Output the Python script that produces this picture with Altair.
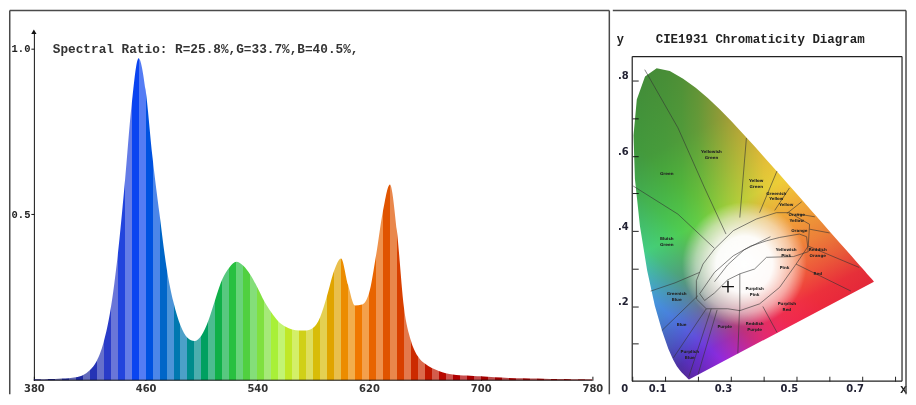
import altair as alt
import pandas as pd

# ---------------- spectrum (left panel) ----------------
wavelength_nm = [380, 385, 390, 395, 400, 405, 410, 415, 420, 425, 430, 435, 440, 445, 450, 455,
                 460, 465, 470, 475, 480, 485, 490, 495, 500, 505, 510, 515, 520, 525, 530, 535,
                 540, 545, 550, 555, 560, 565, 570, 575, 580, 585, 590, 595, 600, 605, 610, 615,
                 620, 625, 630, 635, 640, 645, 650, 655, 660, 665, 670, 675, 680, 685, 690, 695,
                 700, 710, 720, 730, 740, 750, 760, 770, 780]
relative_power = [0.003, 0.003, 0.004, 0.004, 0.005, 0.006, 0.009, 0.015, 0.030, 0.058, 0.115, 0.215, 0.375, 0.590, 0.830, 0.970,
                  0.875, 0.670, 0.500, 0.340, 0.235, 0.165, 0.128, 0.118, 0.135, 0.180, 0.245, 0.305, 0.340, 0.357, 0.345, 0.318,
                  0.280, 0.238, 0.205, 0.178, 0.162, 0.153, 0.150, 0.150, 0.158, 0.190, 0.255, 0.330, 0.367, 0.288, 0.225, 0.228,
                  0.262, 0.375, 0.510, 0.590, 0.450, 0.220, 0.120, 0.072, 0.050, 0.037, 0.028, 0.021, 0.017, 0.015, 0.014, 0.013,
                  0.012, 0.009, 0.007, 0.006, 0.005, 0.004, 0.004, 0.003, 0.003]

# colour of each 10 nm stripe (380 ... 770)
band_colors = ["#1a1a7a", "#1a2080", "#1c2590", "#1f2aa0", "#2533b5", "#2a3cc8", "#2244dd", "#0a44f0",
               "#0052e0", "#0066c8", "#0078b0", "#008c8c", "#00a060", "#10b048", "#28c040", "#50d040",
               "#80e040", "#a8f038", "#c0e828", "#d0d018", "#d8bc08", "#e0a400", "#ec8c00", "#f07800",
               "#e86400", "#e05400", "#d84000", "#cc2a00", "#c01800", "#b80800", "#b00000", "#a80000",
               "#a40000", "#a00000", "#a00000", "#9c0000", "#9c0000", "#980000", "#980000", "#940000"]

x_tick_values = [380, 460, 540, 620, 700, 780]
y_tick_values = [0.5, 1.0]
y_top = 1.05
ratio_text = "Spectral Ratio:  R=25.8%,G=33.7%,B=40.5%,"

# ---------------- CIE 1931 (right panel) ----------------
locus_x = [0.1741, 0.1740, 0.1738, 0.1736, 0.1733, 0.1730, 0.1726, 0.1721, 0.1714, 0.1703, 0.1689, 0.1669,
           0.1644, 0.1611, 0.1566, 0.1510, 0.1440, 0.1355, 0.1241, 0.1096, 0.0913, 0.0687, 0.0454, 0.0235,
           0.0082, 0.0039, 0.0139, 0.0389, 0.0743, 0.1142, 0.1547, 0.1929, 0.2296, 0.2658, 0.3016, 0.3373,
           0.3731, 0.4087, 0.4441, 0.4788, 0.5125, 0.5448, 0.5752, 0.6029, 0.6270, 0.6482, 0.6658, 0.6801,
           0.6915, 0.7006, 0.7079, 0.7140, 0.7190, 0.7230, 0.7260, 0.7300, 0.7320, 0.7334, 0.7347]
locus_y = [0.0050, 0.0050, 0.0049, 0.0049, 0.0048, 0.0048, 0.0048, 0.0048, 0.0051, 0.0058, 0.0069, 0.0086,
           0.0109, 0.0138, 0.0177, 0.0227, 0.0297, 0.0399, 0.0578, 0.0868, 0.1327, 0.2007, 0.2950, 0.4127,
           0.5384, 0.6548, 0.7502, 0.8120, 0.8338, 0.8262, 0.8059, 0.7816, 0.7543, 0.7243, 0.6923, 0.6589,
           0.6245, 0.5896, 0.5547, 0.5202, 0.4866, 0.4544, 0.4242, 0.3965, 0.3725, 0.3514, 0.3340, 0.3197,
           0.3083, 0.2993, 0.2920, 0.2859, 0.2809, 0.2770, 0.2740, 0.2700, 0.2680, 0.2666, 0.2653]

region_lines = {
    "g_yg": [(0.038, 0.830), (0.139, 0.675), (0.220, 0.515), (0.285, 0.392)],
    "g_bg": [(0.003, 0.520), (0.139, 0.445), (0.250, 0.354)],
    "bg_gb": [(0.056, 0.240), (0.130, 0.262), (0.205, 0.290)],
    "gb_b": [(0.090, 0.135), (0.200, 0.228)],
    "b_pb": [(0.125, 0.062), (0.225, 0.193)],
    "pb_1": [(0.172, 0.012), (0.240, 0.193)],
    "pb_2": [(0.200, 0.018), (0.258, 0.190)],
    "p_rp": [(0.321, 0.074), (0.326, 0.190)],
    "rp_pr": [(0.440, 0.130), (0.397, 0.199)],
    "yg_ygr": [(0.347, 0.648), (0.327, 0.436)],
    "ygr_gy": [(0.440, 0.560), (0.387, 0.449)],
    "gy_y": [(0.478, 0.515), (0.433, 0.455)],
    "y_oy": [(0.515, 0.478), (0.470, 0.447)],
    "oy_o": [(0.555, 0.438), (0.500, 0.446)],
    "o_ro": [(0.600, 0.395), (0.539, 0.405)],
    "ro_r": [(0.690, 0.303), (0.535, 0.360)],
    "r_pr": [(0.665, 0.240), (0.498, 0.312)],
    "pp_line": [(0.327, 0.286), (0.327, 0.188)],
    "outer": [(0.195, 0.268), (0.215, 0.312), (0.250, 0.352), (0.307, 0.401), (0.377, 0.432),
              (0.438, 0.449), (0.478, 0.449), (0.539, 0.418), (0.535, 0.360), (0.498, 0.312),
              (0.448, 0.250), (0.387, 0.206), (0.327, 0.188), (0.290, 0.193), (0.225, 0.193),
              (0.195, 0.219), (0.195, 0.268)],
    "inner": [(0.205, 0.233), (0.250, 0.290), (0.307, 0.334), (0.360, 0.360), (0.408, 0.374),
              (0.448, 0.383), (0.508, 0.392), (0.530, 0.385), (0.535, 0.345), (0.490, 0.332),
              (0.408, 0.330), (0.372, 0.299), (0.327, 0.286), (0.290, 0.270), (0.250, 0.235),
              (0.220, 0.215), (0.205, 0.233)],
    "planck": [(0.250, 0.265), (0.290, 0.310), (0.340, 0.350), (0.420, 0.385)],
}

kelly_names = ["Green", "Yellowish\nGreen", "Yellow\nGreen", "Greenish\nYellow", "Yellow", "Orange\nYellow",
               "Orange", "Bluish\nGreen", "Yellowish\nPink", "Reddish\nOrange", "Pink", "Red",
               "Purplish\nPink", "Greenish\nBlue", "Purplish\nRed", "Blue", "Purple", "Reddish\nPurple",
               "Purplish\nBlue"]
kelly_x = [0.105, 0.241, 0.377, 0.438, 0.468, 0.500, 0.508, 0.105, 0.468, 0.564, 0.463, 0.564,
           0.372, 0.135, 0.470, 0.150, 0.281, 0.372, 0.175]
kelly_y = [0.551, 0.611, 0.533, 0.500, 0.470, 0.443, 0.399, 0.379, 0.350, 0.350, 0.302, 0.286,
           0.246, 0.233, 0.206, 0.149, 0.144, 0.153, 0.078]

led_x, led_y = [0.291], [0.252]
cie_ticks = [0.0, 0.1, 0.2, 0.3, 0.4, 0.5, 0.6, 0.7, 0.8]
cie_box = (0.82, 0.865)      # extent of the framed plotting box
cie_y_view = 0.931           # top of the panel (shared with the spectrum panel)
cie_title = "CIE1931 Chromaticity Diagram"

FRAME = "#4a4a4a"
one = pd.DataFrame({"k": [0]})

# ======================= left panel =======================
def lighten(hexc, f):
    r, g, b = int(hexc[1:3], 16), int(hexc[3:5], 16), int(hexc[5:7], 16)
    r, g, b = [round(c + (255 - c) * f) for c in (r, g, b)]
    return "#%02x%02x%02x" % (r, g, b)

stops = []
for i, c in enumerate(band_colors):
    for half in range(2):
        col = c if half == 0 else lighten(c, 0.3)
        s = (10 * i + 5 * half) / 400.0
        e = (10 * i + 5 * half + 5) / 400.0
        stops.append(alt.GradientStop(color=col, offset=round(s, 5)))
        stops.append(alt.GradientStop(color=col, offset=round(min(e, 1.0), 5)))
spectrum_fill = alt.LinearGradient(gradient="linear", stops=stops, x1=0, x2=1, y1=0, y2=0)

x_scale_l = alt.Scale(domain=[x_tick_values[0], x_tick_values[-1]], nice=False, zero=False)
y_scale_l = alt.Scale(domain=[0, y_top], nice=False, zero=True)
x_axis_l = alt.Axis(values=x_tick_values, title=None, grid=False, domain=False, offset=-4, tickSize=4,
                    tickColor="#111", labelPadding=3, labelFlush=False, labelFont="DejaVu Sans",
                    labelFontWeight="bold", labelFontSize=10, labelColor="#333")
y_axis_l = alt.Axis(values=y_tick_values, format=".1f", title=None, grid=False, domainColor="#111",
                    tickColor="#111", tickSize=3, labelPadding=1, labelFlush=False,
                    labelFont="Liberation Mono", labelFontWeight="bold", labelFontSize=10.5, labelColor="#222")
XL = alt.X("wl:Q", scale=x_scale_l, axis=x_axis_l)
YL = alt.Y("v:Q", scale=y_scale_l, axis=y_axis_l)

spec_df = pd.DataFrame({"wl": wavelength_nm, "v": relative_power})
area = alt.Chart(spec_df).mark_area(interpolate="monotone", color=spectrum_fill).encode(x=XL, y=YL)
baseline = alt.Chart(pd.DataFrame({"wl": [x_tick_values[0]], "wl2": [x_tick_values[-1]], "v": [0.0]})).mark_rule(
    color="#111", strokeWidth=1).encode(x=XL, x2="wl2:Q", y=YL)
arrow = alt.Chart(pd.DataFrame({"wl": [x_tick_values[0]], "v": [y_top]})).mark_point(
    shape="triangle-up", filled=True, size=28, color="#111", opacity=1).encode(x=XL, y=YL)
ratio = alt.Chart(pd.DataFrame({"t": [ratio_text]})).mark_text(
    align="left", baseline="middle", font="Liberation Mono", fontWeight="bold", fontSize=12.8,
    color="#333").encode(x=alt.value(19), y=alt.value(17), text="t:N")
frame_l = [
    alt.Chart(one).mark_rule(color=FRAME, strokeWidth=1.5).encode(
        x=alt.value(-24.25), x2=alt.value(578), y=alt.value(-21.25)),
    alt.Chart(one).mark_rule(color=FRAME, strokeWidth=1.5).encode(
        x=alt.value(-24.25), y=alt.value(-21.25), y2=alt.value(364)),
    alt.Chart(one).mark_rule(color=FRAME, strokeWidth=1.5).encode(
        x=alt.value(578), y=alt.value(-21.25), y2=alt.value(364)),
]
left = alt.layer(area, baseline, arrow, ratio, *frame_l).properties(
    width=561, height=350, view=alt.ViewBackground(stroke="transparent"))

# ======================= right panel =======================
x_scale_r = alt.Scale(domain=[0, cie_box[0]], nice=False, zero=False)
y_scale_r = alt.Scale(domain=[0, cie_y_view], nice=False, zero=False)
x_axis_r = alt.Axis(values=cie_ticks,
                    labelExpr="indexof([0,1,3,5,7], round(datum.value*10)) >= 0 ? (datum.value == 0 ? '0' : format(datum.value, '.1f')) : ''",
                    title="x", titleX=272, titleY=12, titleAlign="center", titleBaseline="middle", titleAngle=0,
                    titleFont="Liberation Mono", titleFontWeight="bold", titleFontSize=12, titleColor="#222",
                    offset=-5, domain=False, tickSize=5, tickColor="#222", labelPadding=2, labelOffset=-8,
                    labelFlush=False, grid=False, labelFont="DejaVu Sans", labelFontWeight="bold",
                    labelFontSize=10, labelColor="#223")
y_axis_r = alt.Axis(values=cie_ticks[1:],
                    labelExpr="round(datum.value*10) % 2 == 0 ? replace(format(datum.value, '.1f'), '0.', '.') : ''",
                    title="y", titleX=-18.5, titleY=7, titleAlign="center", titleBaseline="middle", titleAngle=0,
                    titleFont="Liberation Mono", titleFontWeight="bold", titleFontSize=12, titleColor="#222",
                    offset=-6, domain=False, tickSize=6, tickColor="#222", labelPadding=4, labelOffset=-5,
                    labelFlush=False, grid=False, labelFont="DejaVu Sans", labelFontWeight="bold",
                    labelFontSize=10, labelColor="#223")
XR = alt.X("x:Q", scale=x_scale_r, axis=x_axis_r)
YR = alt.Y("y:Q", scale=y_scale_r, axis=y_axis_r)

poly_df = pd.DataFrame({"x": locus_x + [locus_x[0]], "y": locus_y + [locus_y[0]],
                        "i": list(range(len(locus_x) + 1))})

def grad(stop_list, x1, y1, x2, y2, chan):
    st = []
    for off, val in stop_list:
        rgb = [255, 255, 255]
        rgb[chan] = val
        st.append(alt.GradientStop(color="rgb(%d,%d,%d)" % tuple(rgb), offset=off))
    return alt.LinearGradient(gradient="linear", stops=st, x1=x1, y1=y1, x2=x2, y2=y2)

r_fill = grad([(0, 65), (0.132, 72), (0.2, 80), (0.269, 100), (0.405, 165), (0.542, 225), (0.61, 238), (0.679, 240),
               (1, 226)], 0, 0, 1, 0, 0)
g_fill = grad([(0, 40), (0.057, 48), (0.137, 88), (0.229, 128), (0.344, 165), (0.458, 205), (0.573, 185),
               (0.745, 155), (1, 140)], 1, 0.6865, 0.6334, -0.218, 1)
b_fill = grad([(0, 150), (0.066, 185), (0.18, 220), (0.262, 175), (0.344, 125), (0.508, 80), (0.672, 60), (1, 55)],
              0, 0.8585, 0.4232, 0.2186, 2)
white_fill = alt.RadialGradient(gradient="radial", x1=0.47, y1=0.63, r1=0, x2=0.47, y2=0.63, r2=0.2,
                                stops=[alt.GradientStop(color="rgba(255,255,255,1)", offset=0),
                                       alt.GradientStop(color="rgba(255,255,255,0.97)", offset=0.45),
                                       alt.GradientStop(color="rgba(255,255,255,0.5)", offset=0.78),
                                       alt.GradientStop(color="rgba(255,255,255,0)", offset=1)])

def poly_layer(fill, blend=None):
    kw = dict(fill=fill, strokeWidth=0, strokeOpacity=0)
    if blend:
        kw["blend"] = blend
    return alt.Chart(poly_df).mark_line(**kw).encode(x=XR, y=YR, order="i:Q")

rows = []
for name, pts in region_lines.items():
    for j, (px, py) in enumerate(pts):
        rows.append({"seg": name, "i": j, "x": px, "y": py})
lines_df = pd.DataFrame(rows)
bounds = alt.Chart(lines_df).mark_line(stroke="#333", strokeWidth=0.6).encode(
    x=XR, y=YR, detail="seg:N", order="i:Q")

labels = alt.Chart(pd.DataFrame({"x": kelly_x, "y": kelly_y, "t": kelly_names})).mark_text(
    fontSize=4, lineBreak="\n", font="DejaVu Sans", fontWeight="bold", color="#222").encode(x=XR, y=YR, text="t:N")

led = alt.Chart(pd.DataFrame({"x": led_x, "y": led_y})).mark_point(
    shape="M-1,0L1,0M0,-1L0,1", size=144, filled=False, stroke="#111", strokeWidth=1.4, opacity=1).encode(x=XR, y=YR)

# framed plotting box of the diagram
box_df = pd.DataFrame({"x": [0, 0, 0, cie_box[0]], "x2": [cie_box[0], cie_box[0], 0, cie_box[0]],
                       "y": [0, cie_box[1], 0, 0], "y2": [0, cie_box[1], cie_box[1], cie_box[1]]})
box = alt.Chart(box_df).mark_rule(color="#222", strokeWidth=1.2).encode(x=XR, x2="x2:Q", y=YR, y2="y2:Q")

title_r = alt.Chart(pd.DataFrame({"t": [cie_title]})).mark_text(
    align="center", baseline="middle", font="Liberation Mono", fontWeight="bold", fontSize=12.5,
    color="#222").encode(x=alt.value(128.5), y=alt.value(7), text="t:N")

frame_r = [
    alt.Chart(one).mark_rule(color=FRAME, strokeWidth=1.5).encode(
        x=alt.value(-19.5), x2=alt.value(275), y=alt.value(-21.25)),
    alt.Chart(one).mark_rule(color=FRAME, strokeWidth=1.5).encode(
        x=alt.value(275), y=alt.value(-21.25), y2=alt.value(364)),
]

right = alt.layer(
    poly_layer(r_fill, "multiply"), poly_layer(g_fill, "multiply"), poly_layer(b_fill, "multiply"),
    poly_layer(white_fill), bounds, labels, led, box, title_r, *frame_r
).properties(width=271, height=351, view=alt.ViewBackground(stroke="transparent"))

chart = alt.hconcat(left, right, spacing=0).properties(
    padding={"left": 0, "top": 0, "right": 0, "bottom": 0}, background="white")

chart.save("out.html", embed_options={"renderer": "svg", "actions": False})
